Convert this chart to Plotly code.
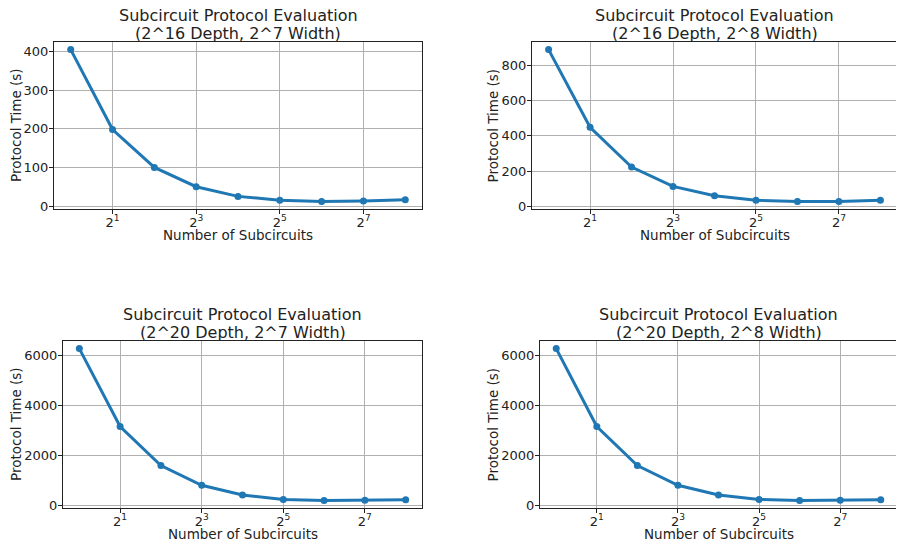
import math
import plotly.graph_objects as go

subcircuits = [1, 2, 4, 8, 16, 32, 64, 128, 256]

time_d16_w7 = [405, 198, 100, 50, 25, 15, 12, 13, 16]
time_d16_w8 = [888, 448, 223, 113, 60, 34, 28, 28, 34]
time_d20_w7 = [6290, 3160, 1590, 800, 410, 230, 190, 195, 220]
time_d20_w8 = [6290, 3160, 1590, 800, 410, 230, 190, 195, 220]

title_main = "Subcircuit Protocol Evaluation"
title_subs = [
    "(2^16 Depth, 2^7 Width)",
    "(2^16 Depth, 2^8 Width)",
    "(2^20 Depth, 2^7 Width)",
    "(2^20 Depth, 2^8 Width)",
]
x_label = "Number of Subcircuits"
y_label = "Protocol Time (s)"
series = [time_d16_w7, time_d16_w8, time_d20_w7, time_d20_w8]
y_ticks = [
    [0, 100, 200, 300, 400],
    [0, 200, 400, 600, 800],
    [0, 2000, 4000, 6000],
    [0, 2000, 4000, 6000],
]
x_tickvals = [2, 8, 32, 128]
x_ticktext = ["2<sup>1</sup>", "2<sup>3</sup>", "2<sup>5</sup>", "2<sup>7</sup>"]

# the page body has an 8px margin, so the figure is 8px smaller and offset
OFF = 8
W, H = 904 - OFF, 544 - OFF
# target pixel boxes in the window (left, right, top, bottom)
boxes = [
    (54, 422, 42, 209),
    (532, 897, 42, 209),
    (63, 422, 341, 508),
    (540, 897, 341, 508),
]
ylabel_x = [15.5, 492, 15.5, 492]

FONT = "DejaVu Sans, Verdana, sans-serif"
fig = go.Figure()


def px_x(v):
    return (v - OFF) / W


def px_y(v):
    return 1 - (v - OFF) / H


for i, (vals, box) in enumerate(zip(series, boxes)):
    n = i + 1
    xa = "x" if n == 1 else f"x{n}"
    ya = "y" if n == 1 else f"y{n}"
    fig.add_trace(go.Scatter(
        x=subcircuits, y=vals, mode="lines+markers",
        line=dict(color="#1f77b4", width=3),
        marker=dict(color="#1f77b4", size=7),
        xaxis=xa, yaxis=ya, showlegend=False,
    ))
    l, r, t, b = box
    xd = [px_x(l), px_x(r)]
    yd = [px_y(b), px_y(t)]
    lo, hi = min(vals), max(vals)
    pad = (hi - lo) * 0.05
    lx0, lx1 = math.log10(subcircuits[0]), math.log10(subcircuits[-1])
    px = (lx1 - lx0) * 0.05
    axis_common = dict(
        showline=True, linecolor="#222", linewidth=1, mirror=True,
        ticks="outside", ticklen=4, tickcolor="#222",
        showgrid=True, gridcolor="#b0b0b0", gridwidth=1,
        zeroline=False, automargin=False,
        tickfont=dict(family=FONT, size=13, color="#222"),
    )
    fig.layout[f"xaxis{'' if n == 1 else n}"] = dict(
        axis_common, domain=xd, anchor=ya, type="log",
        range=[lx0 - px, lx1 + px], tickvals=x_tickvals, ticktext=x_ticktext,
        ticklabelstandoff=-3,
    )
    fig.layout[f"yaxis{'' if n == 1 else n}"] = dict(
        axis_common, domain=yd, anchor=xa,
        range=[lo - pad, hi + pad], tickvals=y_ticks[i],
        ticklabelstandoff=-2,
    )
    cx = (xd[0] + xd[1]) / 2
    for txt, dy in ((title_main, 27), (title_subs[i], 9)):
        fig.add_annotation(
            text=txt, xref="paper", yref="paper",
            x=cx, y=px_y(t - dy), xanchor="center", yanchor="middle",
            showarrow=False, font=dict(family=FONT, size=16, color="#222"),
        )
    fig.add_annotation(
        text=x_label, xref="paper", yref="paper",
        x=cx, y=px_y(b + 26), xanchor="center", yanchor="middle",
        showarrow=False, font=dict(family=FONT, size=13.5, color="#222"),
    )
    fig.add_annotation(
        text=y_label, xref="paper", yref="paper", textangle=-90,
        x=px_x(ylabel_x[i]), y=(yd[0] + yd[1]) / 2, xanchor="center", yanchor="middle",
        showarrow=False, font=dict(family=FONT, size=13.5, color="#222"),
    )

fig.update_layout(
    width=W, height=H, margin=dict(l=0, r=0, t=0, b=0),
    paper_bgcolor="white", plot_bgcolor="white",
)
fig.write_html("out.html")
